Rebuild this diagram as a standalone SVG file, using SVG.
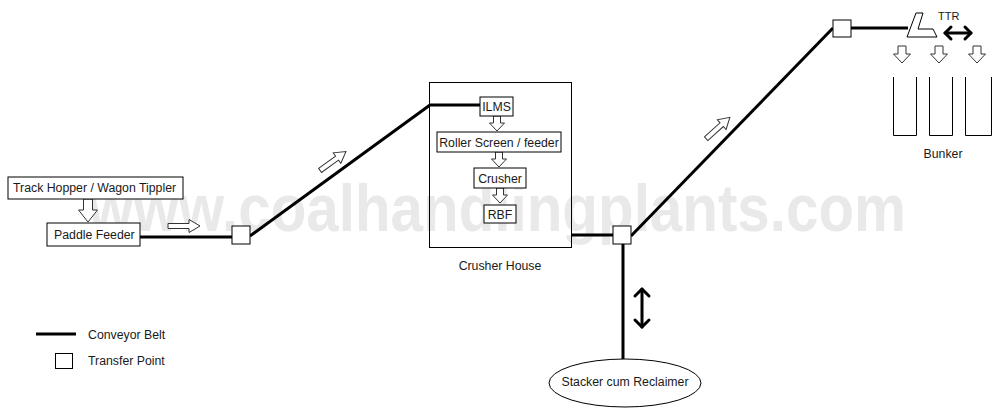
<svg xmlns="http://www.w3.org/2000/svg" width="1004" height="419" viewBox="0 0 1004 419">
<style>
  .bg{fill:#ffffff}
  .wm{font-family:"Liberation Sans",Arial,sans-serif;font-weight:bold;font-size:66px;fill:#e9e9e9}
  .box{fill:#ffffff;stroke:#000;stroke-width:1}
  .house{fill:none;stroke:#000;stroke-width:1}
  .txt{font-family:"Liberation Sans",Arial,sans-serif;font-size:12.3px;fill:#1a1a1a}
  .sm{font-size:11px}
  .belt{fill:none;stroke:#000;stroke-width:3;stroke-linecap:butt;stroke-linejoin:round}
  .harrow{fill:#ffffff;stroke:#333;stroke-width:1}
  .dbl{fill:none;stroke:#000;stroke-width:3;stroke-linecap:round;stroke-linejoin:round}
  .thin{fill:none;stroke:#000;stroke-width:1}
</style>
<defs>
  <path id="arrR" d="M-16,-2.5 H5 V-6.5 L16,0 L5,6.5 V2.5 H-16 Z"/>
  <path id="arrDs" d="M-3.5,0 H3.5 V7 H7.5 L0,15 L-7.5,7 H-3.5 Z"/>
  <path id="arrDb" d="M-4,0 H4 V8 H8.5 L0,17 L-8.5,8 H-4 Z"/>
</defs>
<rect class="bg" x="0" y="0" width="1004" height="419"/>
<text class="wm" x="88" y="231" textLength="818" lengthAdjust="spacingAndGlyphs">www.coalhandlingplants.com</text>

<g id="crusher-house">
  <rect class="house" x="429.5" y="82.5" width="142" height="165"/>
  <text class="txt" x="500" y="270" text-anchor="middle">Crusher House</text>
</g>

<g id="connectors">
  <polyline class="belt" points="140,237 232,237"/>
  <polyline class="belt" points="250,236 430,105 480,105"/>
  <polyline class="belt" points="571,235 613,235"/>
  <polyline class="belt" points="631,236 833,28"/>
  <polyline class="belt" points="623,244 623,359"/>
  <polyline class="belt" points="851,28 908,28"/>
  <use href="#arrR" class="harrow" transform="translate(184,226)"/>
  <use href="#arrR" class="harrow" transform="translate(333,161) rotate(-36)"/>
  <use href="#arrR" class="harrow" transform="translate(718,128) rotate(-42)"/>
  <path class="harrow" d="M83.5,199 H92.5 V210 H97.5 L88,222 L78.5,210 H83.5 Z"/>
  <use href="#arrDs" class="harrow" transform="translate(497,116)"/>
  <use href="#arrDs" class="harrow" transform="translate(499,152)"/>
  <use href="#arrDs" class="harrow" transform="translate(500,188)"/>
  <use href="#arrDb" class="harrow" transform="translate(902,46)"/>
  <use href="#arrDb" class="harrow" transform="translate(939,46)"/>
  <use href="#arrDb" class="harrow" transform="translate(977,46)"/>
  <g class="dbl">
    <line x1="642" y1="289" x2="642" y2="327"/>
    <polyline points="635,296 642,289 649,296"/>
    <polyline points="635,320 642,327 649,320"/>
    <line x1="945" y1="33" x2="971" y2="33"/>
    <polyline points="951,27 945,33 951,39"/>
    <polyline points="965,27 971,33 965,39"/>
  </g>
</g>

<g id="track-hopper">
  <rect class="box" x="8" y="177" width="175" height="22"/>
  <text class="txt" x="13" y="192">Track Hopper / Wagon Tippler</text>
</g>
<g id="paddle-feeder">
  <rect class="box" x="47" y="223" width="93" height="23"/>
  <text class="txt" x="54" y="239">Paddle Feeder</text>
</g>
<g id="tp1">
  <rect class="box" x="232" y="226" width="18" height="18"/>
</g>
<g id="ilms">
  <rect class="box" x="480" y="97" width="33" height="19"/>
  <text class="txt" x="496.5" y="111" text-anchor="middle">ILMS</text>
</g>
<g id="roller-screen">
  <rect class="box" x="437" y="132" width="124" height="20"/>
  <text class="txt" x="499" y="147" text-anchor="middle">Roller Screen / feeder</text>
</g>
<g id="crusher">
  <rect class="box" x="474" y="168" width="52" height="20"/>
  <text class="txt" x="500" y="183" text-anchor="middle">Crusher</text>
</g>
<g id="rbf">
  <rect class="box" x="484" y="205" width="32" height="18"/>
  <text class="txt" x="500" y="219" text-anchor="middle">RBF</text>
</g>
<g id="tp2">
  <rect class="box" x="613" y="226" width="18" height="18"/>
</g>
<g id="stacker-reclaimer">
  <ellipse class="box" cx="625" cy="383" rx="76" ry="24"/>
  <text class="txt" x="625" y="386" text-anchor="middle">Stacker cum Reclaimer</text>
</g>
<g id="tp3">
  <rect class="box" x="833" y="20" width="18" height="17"/>
</g>
<g id="ttr">
  <path class="box" d="M916,13 L923,13 L918,29 L933,29 L937,37 L907,37 Z"/>
  <text class="txt sm" x="938" y="20">TTR</text>
</g>
<g id="bunker">
  <path class="thin" d="M893.5,77 V135.5 H916.5 V77"/>
  <path class="thin" d="M929.5,77 V135.5 H952.5 V77"/>
  <path class="thin" d="M965.5,77 V135.5 H991.5 V77"/>
  <text class="txt" x="943" y="158" text-anchor="middle">Bunker</text>
</g>
<g id="legend">
  <line class="belt" x1="36" y1="334" x2="76" y2="334"/>
  <text class="txt" x="88" y="339">Conveyor Belt</text>
  <rect class="box" x="55.5" y="353.5" width="17" height="15"/>
  <text class="txt" x="88" y="365">Transfer Point</text>
</g>
</svg>
